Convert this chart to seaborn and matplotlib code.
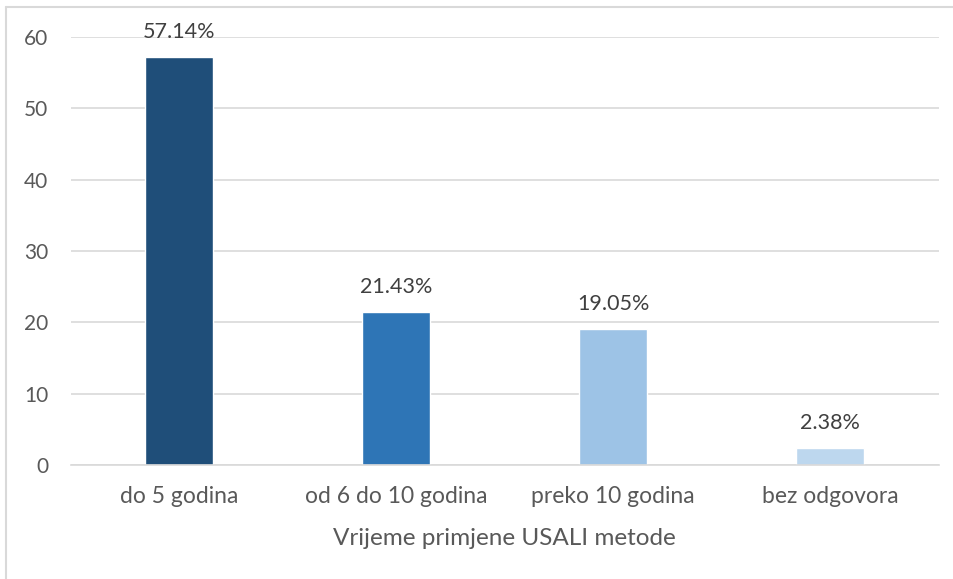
import pandas as pd
import matplotlib.pyplot as plt
import matplotlib.lines as mlines
import seaborn as sns

categories = ["do 5 godina", "od 6 do 10 godina", "preko 10 godina", "bez odgovora"]
values = [57.14, 21.43, 19.05, 2.38]
colors = ["#1F4E79", "#2E75B6", "#9DC3E6", "#BDD7EE"]

df = pd.DataFrame({"kategorija": categories, "vrijednost": values})

sns.set_style("white")
plt.rcParams["font.family"] = ["Lato", "DejaVu Sans"]

fig = plt.figure(figsize=(9.54, 5.79), dpi=100)
ax = fig.add_axes([0.0739, 0.197, 0.9099, 0.739])

sns.barplot(data=df, x="kategorija", y="vrijednost", hue="kategorija",
            palette=colors, width=0.313, legend=False, ax=ax, saturation=1)

ax.set_ylim(0, 60)
ax.set_yticks(range(0, 61, 10))
ax.grid(axis="y", color="#D9D9D9", linewidth=1.2)
ax.set_axisbelow(True)
for side in ["top", "right", "left"]:
    ax.spines[side].set_visible(False)
ax.spines["bottom"].set_color("#D9D9D9")
ax.spines["bottom"].set_linewidth(1.2)

ax.tick_params(axis="y", length=0, labelsize=15, labelcolor="#595959", pad=16)
ax.tick_params(axis="x", length=0, labelsize=16.5, labelcolor="#595959", pad=15)
ax.set_ylabel("")
ax.set_xlabel("Vrijeme primjene USALI metode", fontsize=17.5, color="#595959", labelpad=15)

for cont in ax.containers:
    ax.bar_label(cont, labels=[f"{v:.2f}%" for v in cont.datavalues],
                 padding=11, fontsize=15.5, color="#404040")

# frame lines (top and left visible in the reference)
fig.add_artist(mlines.Line2D([6.5 / 954, 6.5 / 954], [0, 1 - 7 / 579],
                             color="#D9D9D9", linewidth=1.5, transform=fig.transFigure))
fig.add_artist(mlines.Line2D([6.5 / 954, 1], [1 - 7 / 579, 1 - 7 / 579],
                             color="#D9D9D9", linewidth=1.5, transform=fig.transFigure))

fig.savefig("out.png", dpi=100)
plt.close(fig)
